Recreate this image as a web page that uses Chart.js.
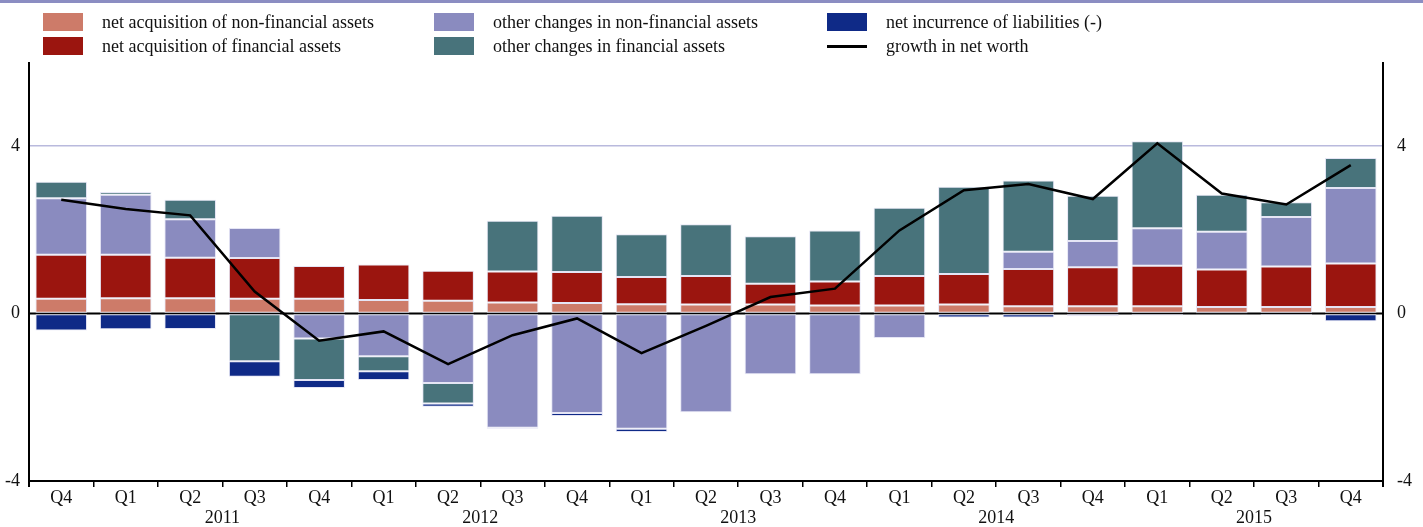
<!DOCTYPE html>
<html>
<head>
<meta charset="utf-8">
<script src="https://cdn.jsdelivr.net/npm/chart.js@4.4.1/dist/chart.umd.min.js"></script>
<style>
  body { margin: 0; background: #fff; }
  #wrap { position: relative; width: 1423px; height: 527px; }
  #band { position: absolute; left: 0; top: 0; width: 1423px; height: 3px; background: #8b8dc2; }
  .lg-box { position: absolute; width: 40px; height: 18px; }
  .lg-line { position: absolute; width: 40px; height: 3px; background: #000; }
  .lg-text { position: absolute; font: 18px "Liberation Serif", "Times New Roman", serif; line-height: 18px; color: #111; white-space: nowrap; }
</style>
</head>
<body>
<div id="wrap">
  <canvas id="graph" width="1423" height="527"></canvas>
  <div id="band"></div>
  <div id="legend"></div>
</div>
<script>
const quarters = ['Q4','Q1','Q2','Q3','Q4','Q1','Q2','Q3','Q4','Q1','Q2','Q3','Q4','Q1','Q2','Q3','Q4','Q1','Q2','Q3','Q4'];
const years = ['2011','2012','2013','2014','2015'];
const yearStart = [1, 5, 9, 13, 17];
const yTicks = [-4, 0, 4];

const nonFinAcq   = [0.35,0.36,0.36,0.35,0.35,0.32,0.30,0.26,0.25,0.22,0.21,0.21,0.19,0.19,0.21,0.17,0.17,0.17,0.15,0.15,0.15];
const finAcq      = [1.05,1.04,0.97,0.97,0.78,0.85,0.72,0.74,0.74,0.65,0.68,0.50,0.57,0.70,0.73,0.89,0.93,0.97,0.90,0.97,1.04];
const otherNonFin = [1.35,1.43,0.92,0.72,-0.60,-1.02,-1.66,-2.73,-2.38,-2.75,-2.36,-1.45,-1.45,-0.59,0,0.41,0.63,0.89,0.90,1.18,1.80];
const otherFin    = [0.39,0.07,0.46,-1.14,-0.99,-0.36,-0.49,1.21,1.34,1.02,1.24,1.13,1.22,1.63,2.08,1.70,1.08,2.08,0.88,0.35,0.72];
const liabilities = [-0.41,-0.38,-0.37,-0.37,-0.19,-0.21,-0.08,-0.02,-0.07,-0.08,0,0,0,0,-0.10,-0.10,-0.07,-0.05,-0.01,-0.04,-0.19];
const netWorth    = [2.71,2.49,2.34,0.52,-0.65,-0.43,-1.21,-0.52,-0.12,-0.95,-0.30,0.39,0.59,1.98,2.94,3.09,2.73,4.06,2.86,2.60,3.54];

const seriesNames = [
  'net acquisition of non-financial assets',
  'net acquisition of financial assets',
  'other changes in non-financial assets',
  'other changes in financial assets',
  'net incurrence of liabilities (-)',
  'growth in net worth'
];
const colors = ['#cd7b69', '#9b150f', '#8a8bbf', '#48737b', '#0f2a87', '#000000'];
const fontFamily = '"Liberation Serif", "Times New Roman", serif';

// legend laid out in three columns of two rows
const legendX = [43, 434, 827];
const legendY = [12.5, 37];
let legendHtml = '';
seriesNames.forEach((name, i) => {
  let col = Math.floor(i / 2);
  let row = i % 2;
  let x = legendX[col];
  let y = legendY[row];
  if (i === 5)
    legendHtml += `<div class="lg-line" style="left:${x}px;top:${y + 7.5}px"></div>`;
  else
    legendHtml += `<div class="lg-box" style="left:${x}px;top:${y}px;background:${colors[i]}"></div>`;
  legendHtml += `<div class="lg-text" style="left:${x + 59}px;top:${y}px">${name}</div>`;
});
document.getElementById('legend').innerHTML = legendHtml;

function barSet(label, data, color) {
  return {
    type: 'bar',
    label: label,
    data: data,
    backgroundColor: color,
    borderColor: 'rgba(228,228,244,0.95)',
    borderWidth: 1,
    borderSkipped: false,
    stack: 'flows',
    order: 1,
    barPercentage: 0.8,
    categoryPercentage: 1.0
  };
}

const extras = {
  id: 'extras',
  beforeDatasetsDraw(chart) {
    // zero line sits behind the bars
    const {ctx, chartArea, scales} = chart;
    const y0 = scales.y.getPixelForValue(0);
    ctx.save();
    ctx.strokeStyle = '#000';
    ctx.lineWidth = 2;
    ctx.beginPath();
    ctx.moveTo(chartArea.left, y0);
    ctx.lineTo(chartArea.right, y0);
    ctx.stroke();
    ctx.restore();
  },
  afterDraw(chart) {
    const {ctx, chartArea, scales} = chart;
    ctx.save();
    ctx.strokeStyle = '#000';
    ctx.lineWidth = 2;
    ctx.beginPath();
    ctx.moveTo(chartArea.left, chartArea.top);
    ctx.lineTo(chartArea.left, chartArea.bottom + 6);
    ctx.moveTo(chartArea.right, chartArea.top);
    ctx.lineTo(chartArea.right, chartArea.bottom + 6);
    ctx.stroke();
    ctx.fillStyle = '#111';
    ctx.font = '18px ' + fontFamily;
    ctx.textAlign = 'center';
    ctx.textBaseline = 'middle';
    years.forEach((yr, i) => {
      let x = (scales.x.getPixelForValue(yearStart[i]) + scales.x.getPixelForValue(yearStart[i] + 3)) / 2;
      ctx.fillText(yr, x, 518);
    });
    ctx.restore();
  }
};

const ctx = document.getElementById('graph');
const chart = new Chart(ctx, {
  data: {
    labels: quarters,
    datasets: [
      {
        type: 'line',
        label: seriesNames[5],
        data: netWorth,
        borderColor: '#000',
        borderWidth: 2.5,
        pointRadius: 0,
        tension: 0,
        order: 0
      },
      barSet(seriesNames[0], nonFinAcq, colors[0]),
      barSet(seriesNames[1], finAcq, colors[1]),
      barSet(seriesNames[2], otherNonFin, colors[2]),
      barSet(seriesNames[3], otherFin, colors[3]),
      barSet(seriesNames[4], liabilities, colors[4])
    ]
  },
  options: {
    responsive: false,
    animation: false,
    layout: { padding: { top: 62, left: 0, right: 0, bottom: 0 } },
    plugins: {
      legend: { display: false },
      tooltip: { enabled: false }
    },
    scales: {
      x: {
        stacked: true,
        offset: true,
        afterFit: (scale) => { scale.height = 46; },
        grid: { offset: true, drawOnChartArea: false, color: '#000', lineWidth: 1.5, tickLength: 6 },
        border: { color: '#000', width: 2 },
        ticks: { color: '#111', font: { family: fontFamily, size: 18 }, padding: 0, maxRotation: 0, autoSkip: false }
      },
      y: {
        stacked: true,
        position: 'left',
        min: -4,
        max: 6,
        afterBuildTicks: (scale) => { scale.ticks = yTicks.map(v => ({ value: v })); },
        afterFit: (scale) => { scale.width = 29; },
        grid: {
          drawTicks: false,
          lineWidth: 1.5,
          color: (c) => c.tick && c.tick.value === 4 ? '#b9badd' : 'rgba(0,0,0,0)'
        },
        border: { display: false },
        ticks: { color: '#111', font: { family: fontFamily, size: 18 }, padding: 9 }
      },
      y2: {
        position: 'right',
        min: -4,
        max: 6,
        afterBuildTicks: (scale) => { scale.ticks = yTicks.map(v => ({ value: v })); },
        afterFit: (scale) => { scale.width = 40; },
        grid: { display: false, drawTicks: false },
        border: { display: false },
        ticks: { color: '#111', font: { family: fontFamily, size: 18 }, padding: 14 }
      }
    }
  },
  plugins: [extras]
});
</script>
</body>
</html>
